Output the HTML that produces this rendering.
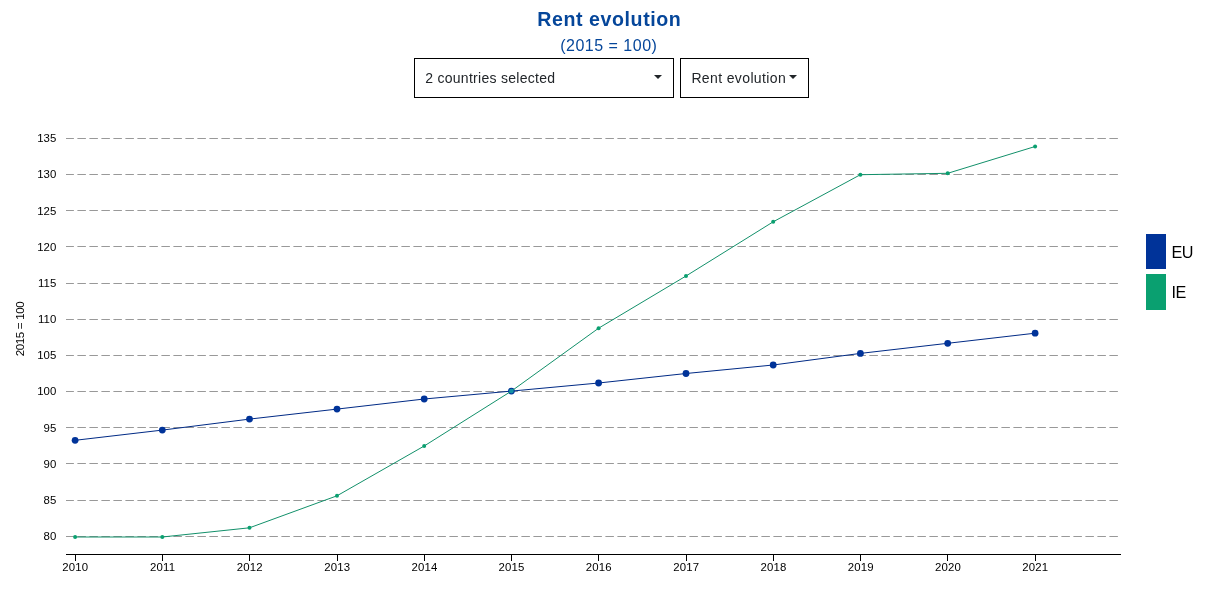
<!DOCTYPE html>
<html lang="en">
<head>
<meta charset="utf-8">
<title>Rent evolution</title>
<style>
html,body{margin:0;padding:0;background:#fff;}
body{width:1207px;height:593px;position:relative;overflow:hidden;font-family:"Liberation Sans",sans-serif;color:#212529;}
h1{position:absolute;left:0;top:5.8px;width:1218.6px;margin:0;text-align:center;font-size:19.6px;line-height:26px;font-weight:bold;color:#05469a;letter-spacing:0.57px;}
h2{position:absolute;left:0;top:35.3px;width:1217.6px;margin:0;text-align:center;font-size:16px;line-height:22px;font-weight:normal;color:#05469a;letter-spacing:0.5px;}
.dd{position:absolute;top:58px;height:38px;border:1px solid #000;border-radius:0;background:#fff;font-size:14px;line-height:38px;white-space:nowrap;}
.dd span{position:absolute;top:0;}
.dd i{position:absolute;top:16px;width:0;height:0;border-left:4px solid transparent;border-right:4px solid transparent;border-top:4.5px solid #212529;}
#d1{left:414px;width:258px;}
#d2{left:680px;width:127px;}
svg{position:absolute;left:0;top:0;}
svg text{font-family:"Liberation Sans",sans-serif;fill:#000;}
</style>
</head>
<body>
<h1>Rent evolution</h1>
<h2>(2015 = 100)</h2>
<div class="dd" id="d1"><span style="left:10.2px;letter-spacing:0.28px">2 countries selected</span><i style="left:239px"></i></div>
<div class="dd" id="d2"><span style="left:10.4px;letter-spacing:0.37px">Rent evolution</span><i style="left:108px"></i></div>
<svg width="1207" height="593" viewBox="0 0 1207 593">
<g stroke="#999" stroke-width="1" stroke-dasharray="8.5 3.5" stroke-dashoffset="0.6" fill="none">
<line x1="66" x2="1118" y1="138.5" y2="138.5"/>
<line x1="66" x2="1118" y1="174.5" y2="174.5"/>
<line x1="66" x2="1118" y1="210.5" y2="210.5"/>
<line x1="66" x2="1118" y1="246.5" y2="246.5"/>
<line x1="66" x2="1118" y1="283.5" y2="283.5"/>
<line x1="66" x2="1118" y1="319.5" y2="319.5"/>
<line x1="66" x2="1118" y1="355.5" y2="355.5"/>
<line x1="66" x2="1118" y1="391.5" y2="391.5"/>
<line x1="66" x2="1118" y1="427.5" y2="427.5"/>
<line x1="66" x2="1118" y1="463.5" y2="463.5"/>
<line x1="66" x2="1118" y1="500.5" y2="500.5"/>
<line x1="66" x2="1118" y1="536.5" y2="536.5"/>
</g>
<g font-size="11.4" style="letter-spacing:0.15px">
<text x="56.6" y="142.1" text-anchor="end">135</text>
<text x="56.6" y="178.3" text-anchor="end">130</text>
<text x="56.6" y="214.5" text-anchor="end">125</text>
<text x="56.6" y="250.6" text-anchor="end">120</text>
<text x="56.6" y="286.8" text-anchor="end">115</text>
<text x="56.6" y="323.0" text-anchor="end">110</text>
<text x="56.6" y="359.2" text-anchor="end">105</text>
<text x="56.6" y="395.4" text-anchor="end">100</text>
<text x="56.6" y="431.6" text-anchor="end">95</text>
<text x="56.6" y="467.7" text-anchor="end">90</text>
<text x="56.6" y="503.9" text-anchor="end">85</text>
<text x="56.6" y="540.1" text-anchor="end">80</text>
</g>
<g stroke="#000" stroke-width="1" fill="none" shape-rendering="crispEdges">
<line x1="66" x2="1121" y1="554.5" y2="554.5"/>
<line x1="75.5" x2="75.5" y1="554.5" y2="561"/>
<line x1="162.5" x2="162.5" y1="554.5" y2="561"/>
<line x1="249.5" x2="249.5" y1="554.5" y2="561"/>
<line x1="337.5" x2="337.5" y1="554.5" y2="561"/>
<line x1="424.5" x2="424.5" y1="554.5" y2="561"/>
<line x1="511.5" x2="511.5" y1="554.5" y2="561"/>
<line x1="598.5" x2="598.5" y1="554.5" y2="561"/>
<line x1="686.5" x2="686.5" y1="554.5" y2="561"/>
<line x1="773.5" x2="773.5" y1="554.5" y2="561"/>
<line x1="860.5" x2="860.5" y1="554.5" y2="561"/>
<line x1="947.5" x2="947.5" y1="554.5" y2="561"/>
<line x1="1035.5" x2="1035.5" y1="554.5" y2="561"/>
</g>
<g font-size="11.4" style="letter-spacing:0.15px">
<text x="75.3" y="571.2" text-anchor="middle">2010</text>
<text x="162.6" y="571.2" text-anchor="middle">2011</text>
<text x="249.8" y="571.2" text-anchor="middle">2012</text>
<text x="337.2" y="571.2" text-anchor="middle">2013</text>
<text x="424.4" y="571.2" text-anchor="middle">2014</text>
<text x="511.6" y="571.2" text-anchor="middle">2015</text>
<text x="598.8" y="571.2" text-anchor="middle">2016</text>
<text x="686.3" y="571.2" text-anchor="middle">2017</text>
<text x="773.5" y="571.2" text-anchor="middle">2018</text>
<text x="860.7" y="571.2" text-anchor="middle">2019</text>
<text x="947.9" y="571.2" text-anchor="middle">2020</text>
<text x="1035.3" y="571.2" text-anchor="middle">2021</text>
</g>
<text font-size="11.5" text-anchor="middle" transform="translate(24.2,329) rotate(-90)" style="letter-spacing:-0.4px;word-spacing:0.2px">2015 = 100</text>
<path d="M75.1,440.3 L162.3,430.1 L249.5,419.1 L337.0,409.1 L424.2,399.0 L511.4,391.1 L598.6,383.0 L686.0,373.5 L773.2,365.0 L860.4,353.4 L947.7,343.3 L1035.1,333.2" fill="none" stroke="#002a85" stroke-width="1"/>
<g fill="#003399"><circle cx="75.1" cy="440.3" r="3.4"/><circle cx="162.3" cy="430.1" r="3.4"/><circle cx="249.5" cy="419.1" r="3.4"/><circle cx="337.0" cy="409.1" r="3.4"/><circle cx="424.2" cy="399.0" r="3.4"/><circle cx="511.4" cy="391.1" r="3.4"/><circle cx="598.6" cy="383.0" r="3.4"/><circle cx="686.0" cy="373.5" r="3.4"/><circle cx="773.2" cy="365.0" r="3.4"/><circle cx="860.4" cy="353.4" r="3.4"/><circle cx="947.7" cy="343.3" r="3.4"/><circle cx="1035.1" cy="333.2" r="3.4"/></g>
<path d="M75.1,537.0 L162.3,537.0 L249.5,527.8 L337.0,495.8 L424.2,446.0 L511.4,391.1 L598.6,328.2 L686.0,276.0 L773.2,221.8 L860.4,174.7 L947.7,173.3 L1035.1,146.5" fill="none" stroke="#12906a" stroke-width="1"/>
<g fill="#0aa070"><circle cx="75.1" cy="537.0" r="2"/><circle cx="162.3" cy="537.0" r="2"/><circle cx="249.5" cy="527.8" r="2"/><circle cx="337.0" cy="495.8" r="2"/><circle cx="424.2" cy="446.0" r="2"/><circle cx="511.4" cy="391.1" r="2"/><circle cx="598.6" cy="328.2" r="2"/><circle cx="686.0" cy="276.0" r="2"/><circle cx="773.2" cy="221.8" r="2"/><circle cx="860.4" cy="174.7" r="2"/><circle cx="947.7" cy="173.3" r="2"/><circle cx="1035.1" cy="146.5" r="2"/></g>
<circle cx="511.4" cy="391.1" r="2.3" fill="#1390a6"/>
<rect x="1146" y="234" width="20" height="35" fill="#003399"/>
<rect x="1146" y="274" width="20" height="36" fill="#0aa070"/>
<g font-size="16.2" style="letter-spacing:-0.6px">
<text x="1171.5" y="258">EU</text>
<text x="1171.5" y="298">IE</text>
</g>
</svg>
</body>
</html>
